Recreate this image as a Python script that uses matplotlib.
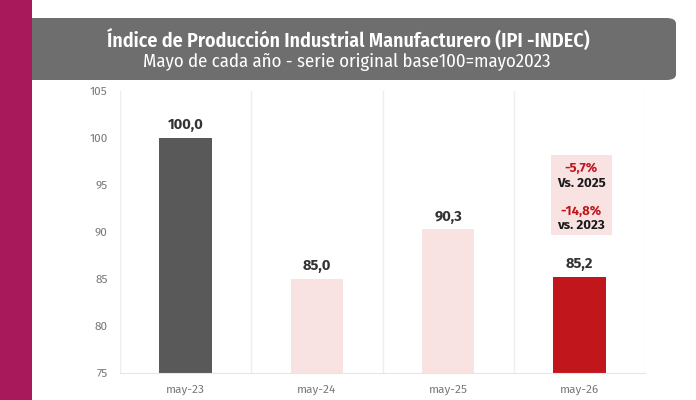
import matplotlib.pyplot as plt
from matplotlib.patches import FancyBboxPatch, Rectangle
import matplotlib.font_manager as fm

names = {f.name for f in fm.fontManager.ttflist}


def pick(prefs):
    for p in prefs:
        if p in names:
            return p
    return 'DejaVu Sans'


cond = pick(['Fira Sans Condensed', 'Roboto Condensed', 'Open Sans Condensed',
             'Encode Sans Condensed', 'Liberation Sans Narrow'])
body = pick(['Fira Sans', 'Open Sans'])
plt.rcParams['font.family'] = [body, 'DejaVu Sans']

categories = ['may-23', 'may-24', 'may-25', 'may-26']
values = [100.0, 85.0, 90.3, 85.2]
value_labels = ['100,0', '85,0', '90,3', '85,2']
bar_colors = ['#595959', '#F8E2E2', '#F8E2E2', '#C1161C']
yticks = [75, 80, 85, 90, 95, 100, 105]

title = 'Índice de Producción Industrial Manufacturero (IPI -INDEC)'
subtitle = 'Mayo de cada año - serie original base100=mayo2023'

fig = plt.figure(figsize=(6.96, 4.0), dpi=100)
fig.patch.set_facecolor('white')

# left magenta strip and header box
fig.patches.append(Rectangle((0, 0), 32 / 696, 1, transform=fig.transFigure,
                             facecolor='#A8195C', edgecolor='none'))
fig.patches.append(FancyBboxPatch((40 / 696, 1 - 80 / 400), (676 - 40) / 696, 62 / 400,
                                  boxstyle='round,pad=0,rounding_size=0.014',
                                  transform=fig.transFigure, facecolor='#6E6E6E',
                                  edgecolor='none'))
fig.patches.append(Rectangle((32 / 696, 1 - 80 / 400), 20 / 696, 62 / 400, transform=fig.transFigure,
                             facecolor='#6E6E6E', edgecolor='none'))
fig.text(348 / 696, 1 - 40 / 400, title, ha='center', va='center',
         color='white', fontsize=14.4, fontweight='semibold', family=[cond, 'DejaVu Sans'])
fig.text(347 / 696, 1 - 62 / 400, subtitle, ha='center', va='center',
         color='white', fontsize=13.5, fontweight='normal', family=[cond, 'DejaVu Sans'])

ax = fig.add_axes([120 / 696, 1 - 373 / 400, (645 - 120) / 696, (373 - 91) / 400])
x = range(len(categories))
ax.bar(x, [v - 75 for v in values], bottom=75, width=0.4, color=bar_colors, zorder=2)
for i, (v, lab) in enumerate(zip(values, value_labels)):
    ax.text(i, v + 0.6, lab, ha='center', va='bottom', fontsize=10.5,
            fontweight='bold', color='#333333')

ax.set_xlim(-0.5, 3.5)
ax.set_ylim(75, 105)
ax.set_yticks(yticks)
ax.set_xticks(list(x))
ax.set_xticklabels(categories)
ax.tick_params(axis='both', length=0, labelsize=8.5, colors='#7A7A7A')
ax.tick_params(axis='y', pad=9)
ax.tick_params(axis='x', pad=8)
for s in ['top', 'right', 'left']:
    ax.spines[s].set_visible(False)
ax.spines['bottom'].set_color('#E6E6E6')
for b in [-0.5, 0.5, 1.5, 2.5, 3.5]:
    ax.axvline(b, color='#EEEEEE', lw=1, zorder=0)

# comparison box
ax.add_patch(Rectangle((2.78, 89.7), 0.47, 8.5, facecolor='#F8E2E2', edgecolor='none', zorder=1))
ax.text(3.015, 96.8, '-5,7%', ha='center', va='center', fontsize=9.5, fontweight='bold', color='#C1161C')
ax.text(3.015, 95.2, 'Vs. 2025', ha='center', va='center', fontsize=9.5, fontweight='bold', color='#1A1A1A')
ax.text(3.015, 92.2, '-14,8%', ha='center', va='center', fontsize=9.5, fontweight='bold', color='#C1161C')
ax.text(3.015, 90.7, 'vs. 2023', ha='center', va='center', fontsize=9.5, fontweight='bold', color='#1A1A1A')

plt.savefig('out.png', dpi=100)
